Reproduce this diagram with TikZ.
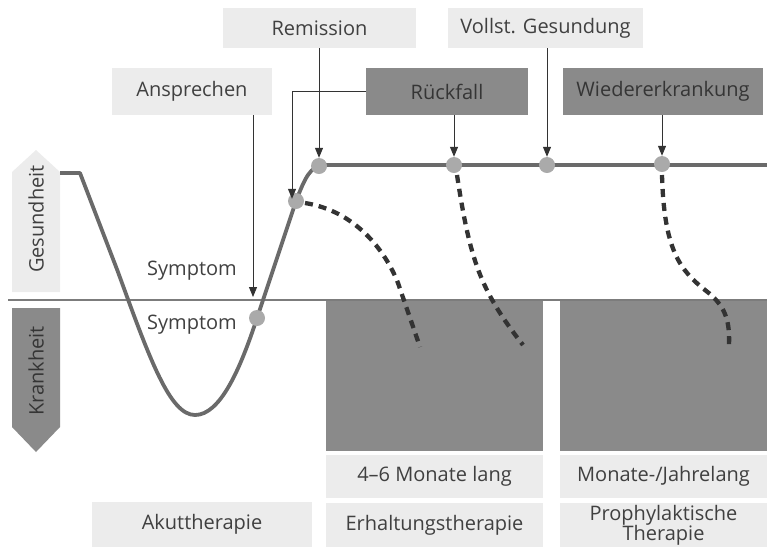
\documentclass[tikz,border=0pt]{standalone}
\usepackage{fontspec}
\setmainfont{Open Sans}
\usetikzlibrary{arrows.meta}
\definecolor{lightbox}{HTML}{ECECEC}
\definecolor{darkbox}{HTML}{8A8A8A}
\definecolor{txt}{HTML}{404040}
\definecolor{dtxt}{HTML}{353535}
\definecolor{curvec}{HTML}{6A6A6A}
\definecolor{dotc}{HTML}{AAAAAA}
\definecolor{arrc}{HTML}{333333}
\tikzset{
  lbox/.style={fill=lightbox, draw=none, inner sep=0pt, text=txt, font=\fontsize{20}{20}\selectfont, align=center},
  dbox/.style={fill=darkbox, draw=none, inner sep=0pt, text=dtxt, font=\fontsize{20}{20}\selectfont, align=center},
  dotn/.style={circle, fill=dotc, draw=none, minimum size=16pt, inner sep=0pt},
  arr/.style={draw=arrc, line width=1pt, -{Triangle[length=10pt,width=8pt]}},
  maincurve/.style={draw=curvec, line width=3.8pt, line join=round},
  dashc/.style={draw=arrc, line width=4.3pt, dash pattern=on 8pt off 6pt},
  plainlbl/.style={text=txt, font=\fontsize{20}{20}\selectfont, inner sep=0pt}
}
\begin{document}
\begin{tikzpicture}[x=1pt,y=-1pt]
\useasboundingbox (0,0) rectangle (767,547);
% side arrows
\fill[lightbox] (12,292) -- (12,172) -- (36,150) -- (60,172) -- (60,292) -- cycle;
\fill[darkbox] (12,308) -- (12,427) -- (36,452) -- (60,427) -- (60,308) -- cycle;
\node[rotate=90, text=txt, font=\fontsize{20}{20}\selectfont, inner sep=0pt] (gesund) at (36,219) {Gesundheit};
\node[rotate=90, text=dtxt, font=\fontsize{20}{20}\selectfont, inner sep=0pt] (krank) at (36,371) {Krankheit};
% bottom boxes
\node[dbox, minimum width=217pt, minimum height=151pt] (k1) at (434.5,375.5) {};
\node[dbox, minimum width=207pt, minimum height=151pt] (k2) at (663.5,375.5) {};
\node[lbox, minimum width=217pt, minimum height=43pt] (mon1) at (434.5,476.5) {4–6 Monate lang};
\node[lbox, minimum width=207pt, minimum height=43pt] (mon2) at (663.5,476.5) {Monate-/Jahrelang};
\node[lbox, minimum width=217pt, minimum height=44pt] (erh) at (434.5,525) {Erhaltungstherapie};
\node[lbox, minimum width=207pt, minimum height=44pt] (pro) at (663.5,525) {Prophylaktische\\Therapie};
\node[lbox, minimum width=220pt, minimum height=45pt] (akut) at (202,524.5) {Akuttherapie};
% baseline
\coordinate (bl0) at (8,300);
\coordinate (bl1) at (767,300);
\draw[draw=darkbox!90!black, line width=1.5pt] (bl0) -- (bl1);
% symptom labels
\node[plainlbl] (s1) at (192,271) {Symptom};
\node[plainlbl] (s2) at (192,325) {Symptom};
% top boxes
\node[lbox, minimum width=193pt, minimum height=40pt] (rem) at (319.5,28) {Remission};
\node[lbox, minimum width=160pt, minimum height=47pt] (ans) at (192,91.5) {Ansprechen};
\node[lbox, minimum width=195pt, minimum height=40pt] (voll) at (545.5,28) {Vollst. Gesundung};
\node[dbox, minimum width=162pt, minimum height=47pt] (ruck) at (447,91.5) {Rückfall};
\node[dbox, minimum width=200pt, minimum height=47pt] (wied) at (663,91.5) {Wiedererkrankung};
% dashed curves
\draw[dashc] (305,203) .. controls (355,211) and (385,250) .. (398,283) -- (420,347);
\draw[dashc] (457,175) .. controls (470,260) and (480,290) .. (523,345);
\draw[dashc] (662,175) .. controls (664,250) and (680,270) .. (705,290) .. controls (725,305) and (730,320) .. (729,345);
% main curve
\draw[maincurve] (60,173) -- (80,173) -- (118,272) .. controls (150,360) and (170,415) .. (195,415) .. controls (220,415) and (240,370) .. (257,318) -- (296,201) .. controls (305,178) and (310,166) .. (324,165) -- (767,165);
% dots
\node[dotn] (d1) at (257,318) {};
\node[dotn] (d2) at (296,201) {};
\node[dotn] (d3) at (319,166) {};
\node[dotn] (d4) at (454,165) {};
\node[dotn] (d5) at (547,165) {};
\node[dotn] (d6) at (662,164) {};
% arrows
\coordinate (ansTip) at (253,297);
\draw[arr] (ans.south -| ansTip) -- (ansTip);
\draw[arr] (rem.south -| d3) -- (d3.north);
\draw[arr] (ruck.west) -| ([xshift=-4pt, yshift=-6pt]d2.north);
\draw[arr] (ruck.south -| d4) -- (d4.north);
\draw[arr] (voll.south -| d5) -- (d5.north);
\draw[arr] (wied.south -| d6) -- (d6.north);
\end{tikzpicture}
\end{document}
